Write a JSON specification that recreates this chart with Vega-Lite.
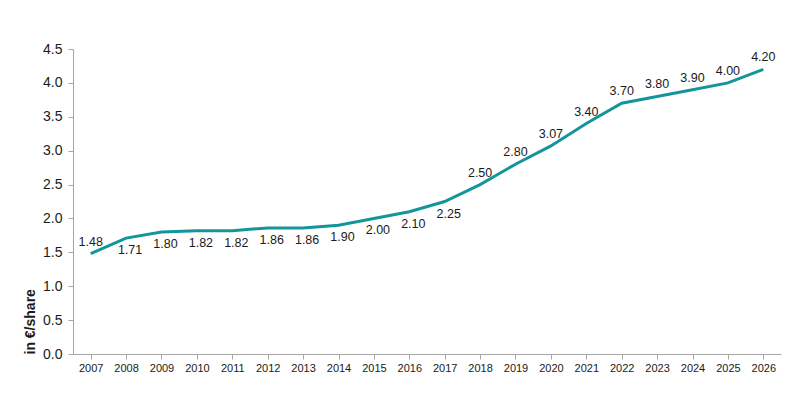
{
  "$schema": "https://vega.github.io/schema/vega-lite/v6.json",
  "autosize": {"type": "none"},
  "width": 708,
  "height": 305,
  "padding": {"left": 73, "top": 49, "right": 19, "bottom": 57},
  "background": "white",
  "config": {
    "view": {"stroke": null},
    "font": "Liberation Sans",
    "axis": {"grid": false, "domainColor": "#a6a6a6", "tickColor": "#a6a6a6", "labelColor": "#1a1a1a", "titleColor": "#1a1a1a"}
  },
  "data": {
    "values": [
      {"year": "2007", "value": 1.48},
      {"year": "2008", "value": 1.71},
      {"year": "2009", "value": 1.80},
      {"year": "2010", "value": 1.82},
      {"year": "2011", "value": 1.82},
      {"year": "2012", "value": 1.86},
      {"year": "2013", "value": 1.86},
      {"year": "2014", "value": 1.90},
      {"year": "2015", "value": 2.00},
      {"year": "2016", "value": 2.10},
      {"year": "2017", "value": 2.25},
      {"year": "2018", "value": 2.50},
      {"year": "2019", "value": 2.80},
      {"year": "2020", "value": 3.07},
      {"year": "2021", "value": 3.40},
      {"year": "2022", "value": 3.70},
      {"year": "2023", "value": 3.80},
      {"year": "2024", "value": 3.90},
      {"year": "2025", "value": 4.00},
      {"year": "2026", "value": 4.20}
    ]
  },
  "encoding": {
    "x": {
      "field": "year", "type": "ordinal", "sort": null,
      "scale": {"type": "point", "padding": 0.5},
      "axis": {"title": null, "labelAngle": 0, "labelFontSize": 11, "tickSize": 5, "labelPadding": 3, "domainWidth": 1}
    },
    "y": {
      "field": "value", "type": "quantitative",
      "scale": {"domain": [0, 4.5], "nice": false, "zero": true},
      "axis": {
        "values": [0, 0.5, 1, 1.5, 2, 2.5, 3, 3.5, 4, 4.5],
        "format": ".1f",
        "title": "in €/share",
        "titleFontSize": 14,
        "titleFontWeight": "bold",
        "titleAnchor": "start",
        "titlePadding": 5,
        "labelFontSize": 14,
        "tickSize": 5,
        "labelPadding": 6
      }
    }
  },
  "layer": [
    {"mark": {"type": "line", "color": "#13969b", "strokeWidth": 3}},
    {
      "transform": [{"filter": "datum.year < '2008' || datum.year > '2017'"}],
      "mark": {"type": "text", "fontSize": 12.5, "dy": -12, "baseline": "middle", "color": "#1a1a1a"},
      "encoding": {"text": {"field": "value", "type": "quantitative", "format": ".2f"}}
    },
    {
      "transform": [{"filter": "datum.year >= '2008' && datum.year <= '2017'"}],
      "mark": {"type": "text", "fontSize": 12.5, "dy": 12, "dx": 4, "baseline": "middle", "color": "#1a1a1a"},
      "encoding": {"text": {"field": "value", "type": "quantitative", "format": ".2f"}}
    }
  ]
}
